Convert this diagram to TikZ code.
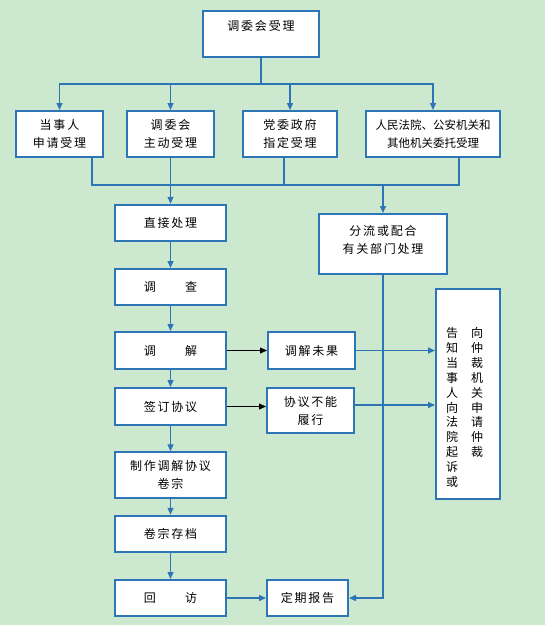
\documentclass[tikz,border=0pt]{standalone}
\usepackage{fontspec}
\setmainfont{Noto Sans CJK SC}
\newfontfamily\cjk[LetterSpace=15]{Noto Sans CJK SC}
\usetikzlibrary{arrows.meta}
\definecolor{paper}{HTML}{CCE8CF}
\definecolor{flow}{HTML}{2E75B6}
\tikzset{
  procbox/.style={draw=flow, line width=2pt, fill=white, align=center,
    inner sep=0pt, font=\cjk\fontsize{12}{18}\selectfont},
  link/.style={draw=flow, line width=1.4pt},
  arr/.style={link, -{Triangle[length=7pt, width=6pt]}},
  blkarr/.style={draw=black, line width=0.8pt, -{Triangle[length=7pt, width=6pt]}},
  vcol/.style={align=center, inner sep=0pt, font=\fontsize{12}{14.9}\selectfont}
}

\begin{document}
\begin{tikzpicture}[x=1pt, y=-1pt]

  % ---- Page ------------------------------------------------------------------
  \useasboundingbox (0,0) rectangle (545,625);
  \fill[paper] (0,0) rectangle (545,625);

  % ---- Intake ----------------------------------------------------------------
  \node[procbox, minimum width=116pt, minimum height=45.5pt] (accept) at (261,34) {调委会受理\\~};

  \node[procbox, minimum width=87pt, minimum height=46pt] (party) at (59.5,134) {当事人\\申请受理};
  \node[procbox, minimum width=87pt, minimum height=46pt] (self) at (170.5,134) {调委会\\主动受理};
  \node[procbox, minimum width=94pt, minimum height=46pt] (govt) at (290,134) {党委政府\\指定受理};
  \node[procbox, minimum width=134pt, minimum height=46pt,
    font=\fontsize{11.5}{17.4}\selectfont] (court) at (433,134) {人民法院、公安机关和\\其他机关委托受理};

  % ---- Main column -------------------------------------------------------------
  \node[procbox, minimum width=111pt, minimum height=36.5pt] (direct) at (170.5,223) {直接处理};
  \node[procbox, minimum width=111pt, minimum height=36pt] (survey) at (170.5,287) {调　　查};
  \node[procbox, minimum width=111pt, minimum height=37pt] (mediate) at (170.5,350.5) {调　　解};
  \node[procbox, minimum width=111pt, minimum height=37pt] (sign) at (170.5,406.5) {签订协议};
  \node[procbox, minimum width=111pt, minimum height=45.5pt] (dossier) at (170.5,475) {制作调解协议\\卷宗};
  \node[procbox, minimum width=111pt, minimum height=36.5pt] (archive) at (170.5,534) {卷宗存档};
  \node[procbox, minimum width=111pt, minimum height=36pt] (revisit) at (170.5,598) {回　　访};

  % ---- Side boxes --------------------------------------------------------------
  \node[procbox, minimum width=128pt, minimum height=60pt] (refer) at (383,244) {分流或配合\\有关部门处理\\[-8pt]~};
  \node[procbox, minimum width=87pt, minimum height=37pt] (failed) at (311.5,350.5) {调解未果};
  \node[procbox, minimum width=87pt, minimum height=45pt] (breach) at (310.5,410.5) {协议不能\\履行};
  \node[procbox, minimum width=81pt, minimum height=36pt] (report) at (307.5,598) {定期报告};

  \node[procbox, minimum width=64pt, minimum height=210pt] (notify) at (468,394) {};
  \node[vcol] (notifyL) at (452,407.5) {告\\知\\当\\事\\人\\向\\法\\院\\起\\诉\\或};
  \node[vcol] (notifyR) at (477,392.6) {向\\仲\\裁\\机\\关\\申\\请\\仲\\裁};

  % ---- Fan out -----------------------------------------------------------------
  \coordinate (split) at (261,84);
  \draw[link] (accept.south) -- (split);
  \foreach \b in {party, self, govt, court}
    \draw[arr] (split) -| (\b.north);

  % ---- Merge -------------------------------------------------------------------
  \coordinate (joinL) at (92,185);
  \coordinate (joinR) at (459,185);
  \draw[link] ([xshift=32.5pt]party.south) -- (joinL) -- (joinR) -- ([xshift=26pt]court.south);
  \draw[link] ([xshift=-6pt]govt.south) -- ([xshift=-6pt]govt.south |- joinL);
  \draw[arr] (self.south) -- (direct.north);
  \draw[arr] (refer.north |- joinL) -- (refer.north);

  % ---- Process chain -----------------------------------------------------------
  \foreach \a/\b in {direct/survey, survey/mediate, mediate/sign, sign/dossier,
                     dossier/archive, archive/revisit}
    \draw[arr] (\a) -- (\b);

  % ---- Side flows --------------------------------------------------------------
  \draw[blkarr] (mediate.east) -- (failed.west);
  \draw[blkarr] (sign.east) -- (sign.east -| breach.west);
  \draw[arr] (failed.east) -- (failed.east -| notify.west);
  \draw[arr] ([yshift=5.5pt]breach.east) -- ([yshift=5.5pt]breach.east -| notify.west);
  \draw[arr] (refer.south) |- (report.east);
  \draw[arr] (revisit.east) -- (report.west);

\end{tikzpicture}
\end{document}
